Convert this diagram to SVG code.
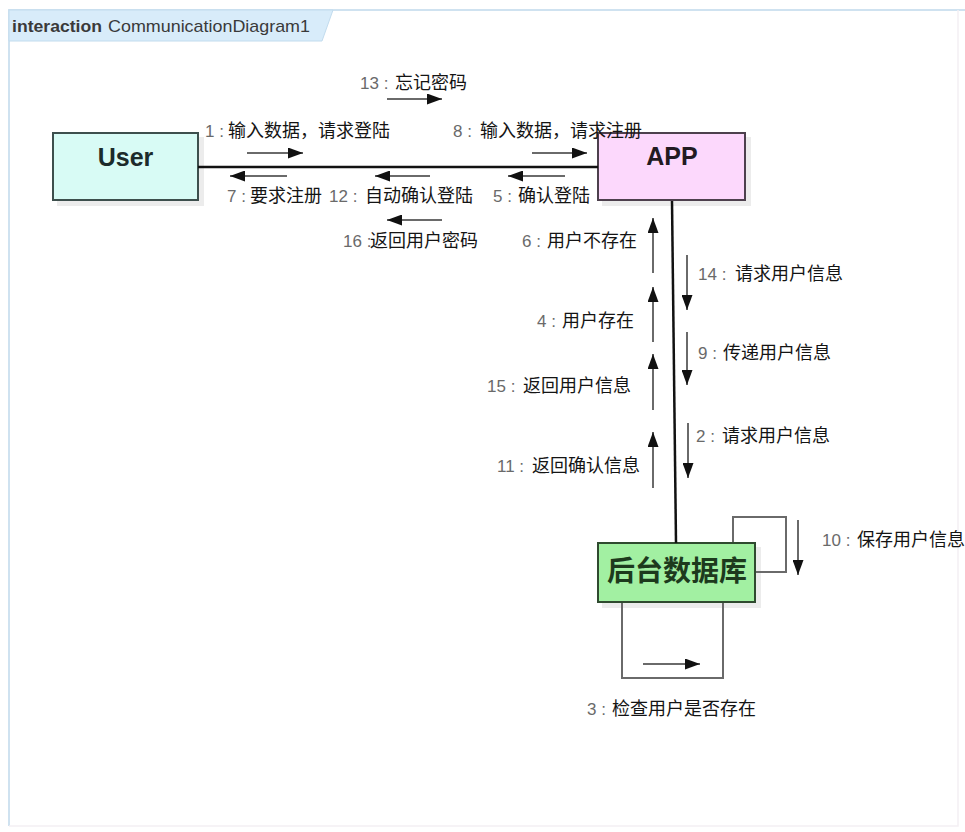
<svg xmlns="http://www.w3.org/2000/svg" width="965" height="832" viewBox="0 0 965 832">
<defs>
<marker id="ah" markerUnits="userSpaceOnUse" markerWidth="15" markerHeight="11" refX="15" refY="5.5" orient="auto">
<path d="M0,0 L15,5.5 L0,11 z" fill="#111"/>
</marker>
<style>
.msg{stroke:#6a6a6a;stroke-width:2;fill:none;marker-end:url(#ah)}
.link{stroke:#111;stroke-width:2.5;fill:none}
.loop{stroke:#6a6a6a;stroke-width:2;fill:none}
.lbl{font-family:"Liberation Sans","Noto Sans CJK SC",sans-serif;font-size:18px;fill:#141414}
.n{fill:#6a6a6a;font-size:17px}
.box{stroke-width:2}
.shadow{fill:#ececec}
.title{font-family:"Liberation Sans",sans-serif;font-size:17px;fill:#3a3a3a}
</style>
</defs>
<rect width="965" height="832" fill="#ffffff"/>
<g id="frame">
<path d="M9,826 L9,10 L965,10" fill="none" stroke="#cfe2f0" stroke-width="2"/>
<path d="M9,826 L958,826 L958,10" fill="none" stroke="#f4f0f4" stroke-width="1.5"/>
<path d="M9,10 L333,10 L322,41 L9,41 z" fill="#d8ecfa" stroke="#c2dcee" stroke-width="1"/>
<text class="title" x="12" y="32" font-weight="bold" textLength="90" lengthAdjust="spacingAndGlyphs">interaction</text>
<text class="title" x="108" y="32" textLength="202" lengthAdjust="spacingAndGlyphs">CommunicationDiagram1</text>
</g>
<g id="user">
<rect class="shadow" x="57" y="137" width="147" height="69"/>
<rect class="box" x="53" y="133" width="145" height="67" fill="#d8fbf5" stroke="#3d4f4d"/>
<text x="125.5" y="166" text-anchor="middle" font-family="Liberation Sans, sans-serif" font-weight="bold" font-size="25" fill="#1c2b2b">User</text>
</g>
<g id="app">
<rect class="shadow" x="602" y="137" width="149" height="69"/>
<rect class="box" x="598" y="133" width="147" height="67" fill="#fcd8fc" stroke="#4d404d"/>
<text x="672" y="165" text-anchor="middle" font-family="Liberation Sans, sans-serif" font-weight="bold" font-size="25" fill="#221a22">APP</text>
</g>
<g id="db">
<rect class="shadow" x="602" y="547" width="159" height="61"/>
<rect class="box" x="598" y="543" width="157" height="59" fill="#a2f0a2" stroke="#2f4a2f"/>
<text x="677" y="581" text-anchor="middle" font-family="Noto Sans CJK SC, sans-serif" font-weight="bold" font-size="28" fill="#1d3a1d">后台数据库</text>
</g>
<g id="connectors">
<line class="link" x1="198" y1="167" x2="598" y2="167"/>
<line class="link" x1="672" y1="201" x2="676" y2="543"/>
<polyline class="loop" points="756,572 786,572 786,517 733,517 733,542"/>
<polyline class="loop" points="622,603 622,678 723,678 723,603"/>
<line class="msg" x1="247" y1="153" x2="303" y2="153"/>
<line class="msg" x1="387" y1="99" x2="442" y2="99"/>
<line class="msg" x1="532" y1="153" x2="587" y2="153"/>
<line class="msg" x1="287" y1="176" x2="230" y2="176"/>
<line class="msg" x1="430" y1="176" x2="375" y2="176"/>
<line class="msg" x1="565" y1="176" x2="508" y2="176"/>
<line class="msg" x1="442" y1="220" x2="387" y2="220"/>
<line class="msg" x1="653" y1="273" x2="653" y2="218"/>
<line class="msg" x1="653" y1="342" x2="653" y2="287"/>
<line class="msg" x1="653" y1="410" x2="653" y2="354"/>
<line class="msg" x1="653" y1="488" x2="653" y2="432"/>
<line class="msg" x1="687" y1="255" x2="687" y2="310"/>
<line class="msg" x1="687" y1="332" x2="687" y2="385"/>
<line class="msg" x1="688" y1="423" x2="688" y2="478"/>
<line class="msg" x1="798" y1="520" x2="798" y2="575"/>
<line class="msg" x1="643" y1="664" x2="700" y2="664"/>
<text class="lbl" y="137"><tspan class="n" x="205">1 :</tspan><tspan x="228">输入数据，请求登陆</tspan></text>
<text class="lbl" y="89"><tspan class="n" x="360">13 :</tspan><tspan x="395">忘记密码</tspan></text>
<text class="lbl" y="137"><tspan class="n" x="453">8 :</tspan><tspan x="480">输入数据，请求注册</tspan></text>
<text class="lbl" y="202"><tspan class="n" x="227">7 :</tspan><tspan x="250">要求注册</tspan></text>
<text class="lbl" y="202"><tspan class="n" x="329">12 :</tspan><tspan x="365">自动确认登陆</tspan></text>
<text class="lbl" y="202"><tspan class="n" x="493">5 :</tspan><tspan x="518">确认登陆</tspan></text>
<text class="lbl" y="247"><tspan class="n" x="343">16 :</tspan><tspan x="370">返回用户密码</tspan></text>
<text class="lbl" y="247"><tspan class="n" x="522">6 :</tspan><tspan x="547">用户不存在</tspan></text>
<text class="lbl" y="280"><tspan class="n" x="698">14 :</tspan><tspan x="735">请求用户信息</tspan></text>
<text class="lbl" y="327"><tspan class="n" x="537">4 :</tspan><tspan x="562">用户存在</tspan></text>
<text class="lbl" y="359"><tspan class="n" x="698">9 :</tspan><tspan x="723">传递用户信息</tspan></text>
<text class="lbl" y="392"><tspan class="n" x="487">15 :</tspan><tspan x="523">返回用户信息</tspan></text>
<text class="lbl" y="442"><tspan class="n" x="696">2 :</tspan><tspan x="722">请求用户信息</tspan></text>
<text class="lbl" y="472"><tspan class="n" x="497">11 :</tspan><tspan x="532">返回确认信息</tspan></text>
<text class="lbl" y="546"><tspan class="n" x="822">10 :</tspan><tspan x="857">保存用户信息</tspan></text>
<text class="lbl" y="715"><tspan class="n" x="587">3 :</tspan><tspan x="612">检查用户是否存在</tspan></text>
</g>
</svg>
